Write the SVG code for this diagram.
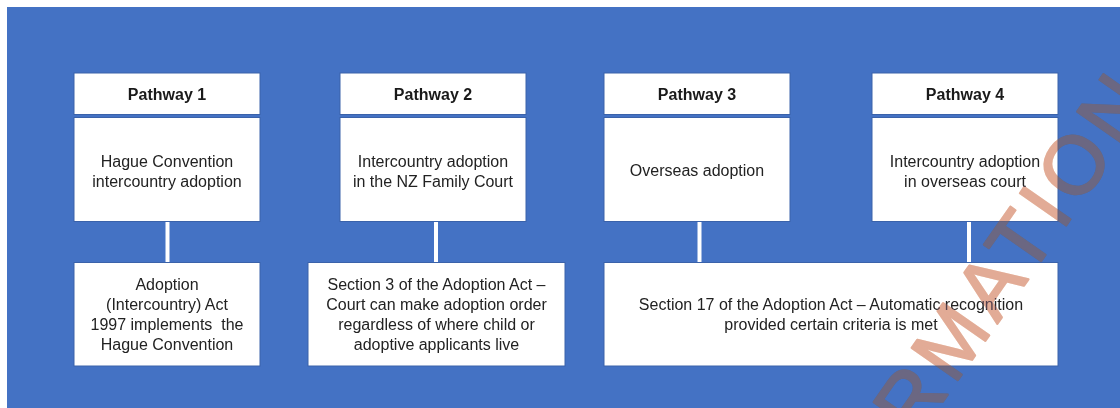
<svg xmlns="http://www.w3.org/2000/svg" width="1120" height="408" viewBox="0 0 1120 408">
  <style>
    .box { fill: #ffffff; stroke: #3a62aa; stroke-width: 1; }
    .hdr { font-family: "Liberation Sans", Arial, sans-serif; font-size: 16px; font-weight: bold; fill: #1a1a1a; text-anchor: middle; }
    .txt { font-family: "Liberation Sans", Arial, sans-serif; font-size: 16px; fill: #222222; text-anchor: middle; }
    .conn { stroke: #ffffff; stroke-width: 4; fill: none; }
    .wm { font-family: "Liberation Sans", Arial, sans-serif; font-size: 82px; letter-spacing: 7px; stroke-width: 2; stroke-linejoin: round; }
    .wm-base { fill: #eab27c; stroke: #eab27c; mix-blend-mode: multiply; }
    .wm-tint { fill: #d09dd3; stroke: #d09dd3; opacity: 0.3; }
  </style>
  <defs>
    <text id="wm-text" class="wm" transform="translate(916 440) rotate(-55)">RMATION</text>
  </defs>
  <rect x="0" y="0" width="1120" height="408" fill="#ffffff"/>
  <rect x="7" y="7" width="1113" height="401" fill="#4472c4"/>

  <g id="connectors">
    <line class="conn" x1="167.5" y1="221" x2="167.5" y2="263"/>
    <line class="conn" x1="436" y1="221" x2="436" y2="263"/>
    <line class="conn" x1="699.5" y1="221" x2="699.5" y2="263"/>
    <line class="conn" x1="969" y1="221" x2="969" y2="263"/>
  </g>

  <g id="pathway1-header">
    <rect class="box" x="74" y="73" width="186" height="41.5"/>
    <text class="hdr" x="167" y="100">Pathway 1</text>
  </g>
  <g id="pathway1-body">
    <rect class="box" x="74" y="117.5" width="186" height="104"/>
    <text class="txt" x="167" y="166.5">Hague Convention</text>
    <text class="txt" x="167" y="186.5">intercountry adoption</text>
  </g>
  <g id="pathway1-law">
    <rect class="box" x="74" y="262.5" width="186" height="103.5"/>
    <text class="txt" x="167" y="290">Adoption</text>
    <text class="txt" x="167" y="310">(Intercountry) Act</text>
    <text class="txt" x="167" y="330" xml:space="preserve">1997 implements  the</text>
    <text class="txt" x="167" y="350">Hague Convention</text>
  </g>

  <g id="pathway2-header">
    <rect class="box" x="340" y="73" width="186" height="41.5"/>
    <text class="hdr" x="433" y="100">Pathway 2</text>
  </g>
  <g id="pathway2-body">
    <rect class="box" x="340" y="117.5" width="186" height="104"/>
    <text class="txt" x="433" y="166.5">Intercountry adoption</text>
    <text class="txt" x="433" y="186.5">in the NZ Family Court</text>
  </g>
  <g id="pathway2-law">
    <rect class="box" x="308" y="262.5" width="257" height="103.5"/>
    <text class="txt" x="436.5" y="290">Section 3 of the Adoption Act –</text>
    <text class="txt" x="436.5" y="310">Court can make adoption order</text>
    <text class="txt" x="436.5" y="330">regardless of where child or</text>
    <text class="txt" x="436.5" y="350">adoptive applicants live</text>
  </g>

  <g id="pathway3-header">
    <rect class="box" x="604" y="73" width="186" height="41.5"/>
    <text class="hdr" x="697" y="100">Pathway 3</text>
  </g>
  <g id="pathway3-body">
    <rect class="box" x="604" y="117.5" width="186" height="104"/>
    <text class="txt" x="697" y="176">Overseas adoption</text>
  </g>

  <g id="pathway4-header">
    <rect class="box" x="872" y="73" width="186" height="41.5"/>
    <text class="hdr" x="965" y="100">Pathway 4</text>
  </g>
  <g id="pathway4-body">
    <rect class="box" x="872" y="117.5" width="186" height="104"/>
    <text class="txt" x="965" y="166.5">Intercountry adoption</text>
    <text class="txt" x="965" y="186.5">in overseas court</text>
  </g>

  <g id="pathway34-law">
    <rect class="box" x="604" y="262.5" width="454" height="103.5"/>
    <text class="txt" x="831" y="310">Section 17 of the Adoption Act – Automatic recognition</text>
    <text class="txt" x="831" y="330">provided certain criteria is met</text>
  </g>

  <g id="watermark">
    <use href="#wm-text" class="wm-base"/>
    <use href="#wm-text" class="wm-tint"/>
  </g>
</svg>
